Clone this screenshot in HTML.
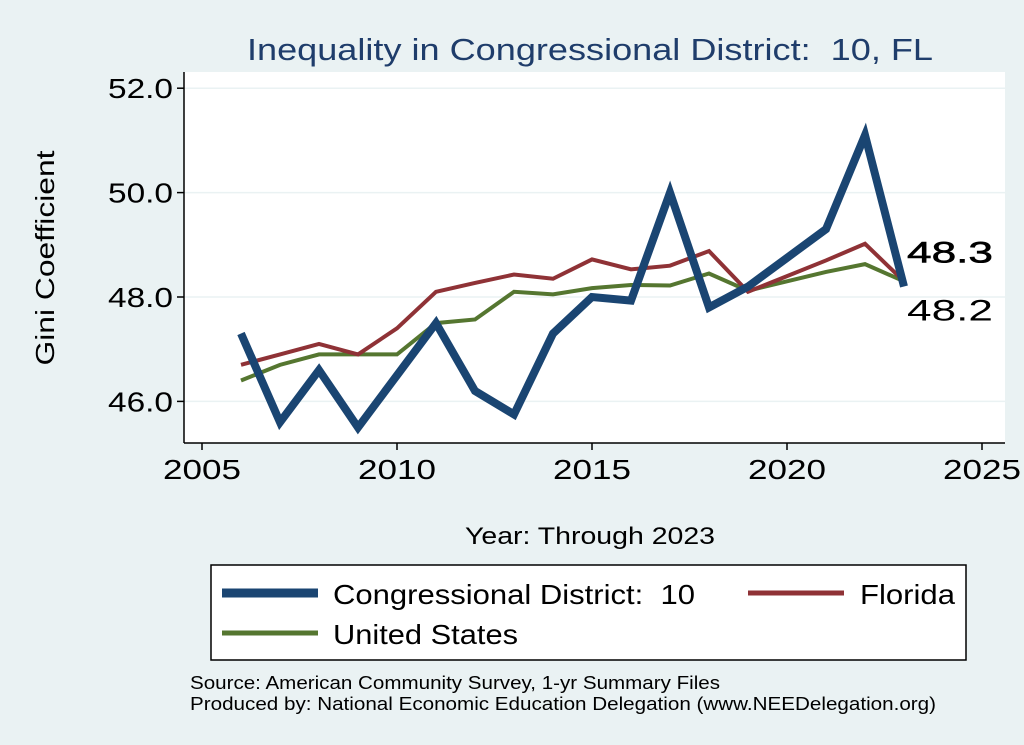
<!DOCTYPE html>
<html><head><meta charset="utf-8"><style>
body{margin:0;background:#eaf2f3;}
svg{display:block;font-family:"Liberation Sans",sans-serif;}
</style></head><body>
<svg id="c" width="1024" height="745">
<rect x="0" y="0" width="1024" height="745" fill="#eaf2f3"/>
<rect x="184" y="72" width="821" height="371" fill="#ffffff"/>
<text x="247" y="60" font-size="31" fill="#1f3d6b" textLength="686" lengthAdjust="spacingAndGlyphs">Inequality in Congressional District:&#160; 10, FL</text>
<text x="54" y="258" font-size="26" fill="#000" text-anchor="middle" textLength="215" lengthAdjust="spacingAndGlyphs" transform="rotate(-90 54 258)">Gini Coefficient</text>
<text x="465" y="544" font-size="24" fill="#000" textLength="250" lengthAdjust="spacingAndGlyphs">Year: Through 2023</text>
<g id="grid"></g><g id="axes"></g><g id="series"></g>
<rect x="211" y="565" width="755" height="95" fill="#fff" stroke="#000" stroke-width="1.5"/>
<g><line x1="222" y1="593" x2="318" y2="593" stroke="#1a4572" stroke-width="9"/><text x="333" y="604" font-size="28" textLength="362" lengthAdjust="spacingAndGlyphs">Congressional District:&#160; 10</text></g>
<g><line x1="748" y1="593" x2="844" y2="593" stroke="#8f3236" stroke-width="5"/><text x="860" y="604" font-size="28" textLength="95" lengthAdjust="spacingAndGlyphs">Florida</text></g>
<g><line x1="222" y1="633" x2="318" y2="633" stroke="#557630" stroke-width="5"/><text x="333" y="644" font-size="28" textLength="185" lengthAdjust="spacingAndGlyphs">United States</text></g>
<text x="190" y="689" font-size="18" textLength="530" lengthAdjust="spacingAndGlyphs">Source: American Community Survey, 1-yr Summary Files</text>
<text x="190" y="710" font-size="18" textLength="746" lengthAdjust="spacingAndGlyphs">Produced by: National Economic Education Delegation (www.NEEDelegation.org)</text>
</svg>
<script>
const years=[2006,2007,2008,2009,2010,2011,2012,2013,2014,2015,2016,2017,2018,2019,2020,2021,2022,2023];
const district=[47.3,45.6,46.6,45.5,46.5,47.5,46.2,45.75,47.3,48.0,47.93,50.0,47.8,48.2,48.75,49.3,51.1,48.2];
const florida=[46.7,46.9,47.1,46.9,47.4,48.1,48.27,48.43,48.35,48.72,48.53,48.6,48.88,48.1,48.4,48.7,49.02,48.3];
const us=[46.4,46.7,46.9,46.9,46.9,47.5,47.57,48.1,48.05,48.17,48.23,48.22,48.45,48.12,48.3,48.48,48.63,48.3];
const xTicks=[2005,2010,2015,2020,2025];
const yTicks=[46,48,50,52];
const NS="http://www.w3.org/2000/svg";
const X=v=>202+(v-2005)*39;
const Y=v=>297-(v-48)*52.2;
function mk(t,a,p){const e=document.createElementNS(NS,t);for(const k in a)e.setAttribute(k,a[k]);p.appendChild(e);return e;}
const grid=document.getElementById('grid'),axes=document.getElementById('axes'),ser=document.getElementById('series');
mk('line',{x1:184,y1:72,x2:184,y2:443,stroke:'#000','stroke-width':1.5},axes);
mk('line',{x1:184,y1:443,x2:1005,y2:443,stroke:'#000','stroke-width':1.5},axes);
yTicks.forEach(v=>{
 const g=mk('line',{x1:184,x2:1005,y1:Y(v),y2:Y(v),stroke:'#eaf2f3','stroke-width':1.5},grid);
 
 
 mk('line',{x1:177,x2:184,y1:Y(v),y2:Y(v),stroke:'#000','stroke-width':1.5},axes);
 const t=mk('text',{x:173,y:Y(v)+10,'font-size':28,'text-anchor':'end',textLength:65,lengthAdjust:'spacingAndGlyphs'},axes);t.textContent=v.toFixed(1);
 
 
});
xTicks.forEach(v=>{
 mk('line',{x1:X(v),x2:X(v),y1:443,y2:450,stroke:'#000','stroke-width':1.5},axes);
 const t=mk('text',{x:X(v),y:479,'font-size':28,'text-anchor':'middle',textLength:78,lengthAdjust:'spacingAndGlyphs'},axes);t.textContent=v;
 
 
});
function line(vals,color,w,name){
 const p=mk('polyline',{points:vals.map((v,i)=>X(years[i])+','+Y(v)).join(' '),fill:'none',stroke:color,'stroke-width':w,'stroke-linejoin':'miter'},ser);
 
 
}
line(us,'#557630',4,'us-line');
line(florida,'#8f3236',4,'florida-line');
line(district,'#1a4572',8,'district-line');
const lx=X(years[years.length-1])+3;
const l1=mk('text',{x:lx,y:Y(florida[florida.length-1])-19,'font-size':30,fill:'#000',stroke:'#000','stroke-width':0.6,textLength:86,lengthAdjust:'spacingAndGlyphs'},ser);l1.textContent=florida[florida.length-1].toFixed(1);


const l2=mk('text',{x:lx,y:Y(district[district.length-1])+34,'font-size':30,fill:'#000',textLength:86,lengthAdjust:'spacingAndGlyphs'},ser);l2.textContent=district[district.length-1].toFixed(1);


</script>
</body></html>
